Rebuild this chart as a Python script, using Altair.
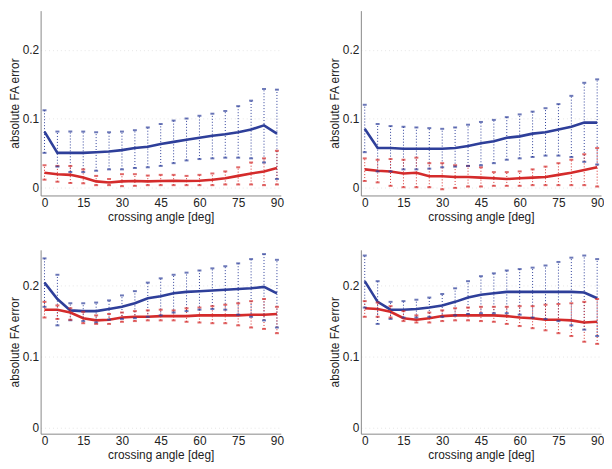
import altair as alt
import pandas as pd

angles = [0, 5, 10, 15, 20, 25, 30, 35, 40, 45, 50, 55, 60, 65, 70, 75, 80, 85, 90]
x_ticks = [0, 15, 30, 45, 60, 75, 90]
y_ticks = [0, 0.1, 0.2]

# Panel 1 (top-left)
p1_blue_mean = [0.081, 0.050, 0.050, 0.050, 0.051, 0.052, 0.054, 0.057, 0.059, 0.063, 0.066, 0.069, 0.072, 0.075, 0.077, 0.080, 0.084, 0.090, 0.078]
p1_blue_hi = [0.112, 0.081, 0.081, 0.081, 0.080, 0.080, 0.081, 0.083, 0.087, 0.092, 0.097, 0.100, 0.104, 0.107, 0.111, 0.118, 0.126, 0.143, 0.142]
p1_blue_lo = [0.050, 0.030, 0.022, 0.022, 0.024, 0.026, 0.026, 0.028, 0.029, 0.031, 0.035, 0.039, 0.041, 0.042, 0.043, 0.043, 0.042, 0.036, 0.012]
p1_red_mean = [0.021, 0.019, 0.018, 0.014, 0.0085, 0.007, 0.0085, 0.009, 0.0085, 0.009, 0.0095, 0.009, 0.0095, 0.011, 0.013, 0.0165, 0.020, 0.023, 0.028]
p1_red_hi = [0.032, 0.031, 0.031, 0.026, 0.0165, 0.012, 0.019, 0.019, 0.017, 0.018, 0.018, 0.0165, 0.018, 0.020, 0.023, 0.029, 0.036, 0.042, 0.053]
p1_red_lo = [0.011, 0.008, 0.006, 0.0057, 0.003, 0.003, 0.0015, 0.002, 0.003, 0.003, 0.003, 0.003, 0.003, 0.003, 0.004, 0.004, 0.004, 0.003, 0.004]

# Panel 2 (top-right)
p2_blue_mean = [0.085, 0.057, 0.057, 0.056, 0.056, 0.056, 0.056, 0.057, 0.060, 0.064, 0.067, 0.072, 0.074, 0.078, 0.080, 0.084, 0.088, 0.094, 0.094]
p2_blue_hi = [0.120, 0.092, 0.089, 0.088, 0.087, 0.086, 0.085, 0.087, 0.091, 0.095, 0.098, 0.102, 0.106, 0.110, 0.115, 0.121, 0.133, 0.152, 0.157]
p2_blue_lo = [0.051, 0.023, 0.023, 0.026, 0.026, 0.027, 0.029, 0.030, 0.031, 0.032, 0.035, 0.040, 0.042, 0.044, 0.046, 0.046, 0.044, 0.037, 0.033]
p2_red_mean = [0.026, 0.024, 0.023, 0.020, 0.021, 0.016, 0.016, 0.015, 0.015, 0.014, 0.013, 0.012, 0.013, 0.014, 0.015, 0.018, 0.021, 0.025, 0.029]
p2_red_hi = [0.042, 0.040, 0.041, 0.040, 0.043, 0.035, 0.035, 0.032, 0.031, 0.029, 0.022, 0.022, 0.023, 0.026, 0.030, 0.035, 0.040, 0.048, 0.057]
p2_red_lo = [0.009, 0.007, 0.002, 0.000, 0.000, 0.000, -0.003, -0.001, 0.001, 0.001, 0.002, 0.002, 0.002, 0.003, 0.003, 0.003, 0.003, 0.003, 0.001]

# Panel 3 (bottom-left)
p3_blue_mean = [0.204, 0.181, 0.165, 0.164, 0.164, 0.167, 0.170, 0.175, 0.182, 0.185, 0.189, 0.191, 0.192, 0.193, 0.194, 0.195, 0.196, 0.198, 0.189]
p3_blue_hi = [0.238, 0.215, 0.175, 0.175, 0.176, 0.179, 0.186, 0.192, 0.204, 0.210, 0.215, 0.218, 0.221, 0.224, 0.227, 0.231, 0.237, 0.244, 0.236]
p3_blue_lo = [0.170, 0.144, 0.151, 0.150, 0.148, 0.152, 0.153, 0.154, 0.156, 0.158, 0.162, 0.164, 0.166, 0.167, 0.166, 0.159, 0.156, 0.151, 0.141]
p3_red_mean = [0.166, 0.166, 0.162, 0.154, 0.151, 0.152, 0.155, 0.156, 0.156, 0.157, 0.157, 0.157, 0.158, 0.158, 0.158, 0.158, 0.159, 0.159, 0.160]
p3_red_hi = [0.177, 0.172, 0.168, 0.163, 0.158, 0.160, 0.162, 0.164, 0.165, 0.166, 0.165, 0.168, 0.169, 0.171, 0.173, 0.175, 0.178, 0.181, 0.170]
p3_red_lo = [0.155, 0.153, 0.152, 0.147, 0.146, 0.146, 0.149, 0.150, 0.151, 0.151, 0.151, 0.149, 0.148, 0.147, 0.147, 0.144, 0.141, 0.139, 0.133]

# Panel 4 (bottom-right)
p4_blue_mean = [0.206, 0.177, 0.166, 0.166, 0.167, 0.169, 0.172, 0.177, 0.183, 0.187, 0.189, 0.191, 0.191, 0.191, 0.191, 0.191, 0.191, 0.190, 0.182]
p4_blue_hi = [0.242, 0.206, 0.177, 0.178, 0.180, 0.183, 0.188, 0.196, 0.206, 0.213, 0.217, 0.221, 0.223, 0.225, 0.228, 0.233, 0.239, 0.242, 0.237]
p4_blue_lo = [0.169, 0.146, 0.153, 0.155, 0.155, 0.156, 0.156, 0.158, 0.160, 0.161, 0.161, 0.161, 0.159, 0.155, 0.153, 0.150, 0.144, 0.138, 0.129]
p4_red_mean = [0.168, 0.167, 0.163, 0.154, 0.152, 0.154, 0.157, 0.158, 0.158, 0.158, 0.158, 0.157, 0.155, 0.154, 0.152, 0.152, 0.151, 0.148, 0.149]
p4_red_hi = [0.178, 0.176, 0.171, 0.164, 0.158, 0.162, 0.165, 0.168, 0.169, 0.170, 0.170, 0.170, 0.171, 0.171, 0.173, 0.174, 0.175, 0.177, 0.181]
p4_red_lo = [0.156, 0.156, 0.155, 0.150, 0.148, 0.148, 0.150, 0.151, 0.151, 0.150, 0.149, 0.146, 0.143, 0.140, 0.137, 0.133, 0.129, 0.121, 0.118]

panels = {
    1: (p1_blue_mean, p1_blue_lo, p1_blue_hi, p1_red_mean, p1_red_lo, p1_red_hi),
    2: (p2_blue_mean, p2_blue_lo, p2_blue_hi, p2_red_mean, p2_red_lo, p2_red_hi),
    3: (p3_blue_mean, p3_blue_lo, p3_blue_hi, p3_red_mean, p3_red_lo, p3_red_hi),
    4: (p4_blue_mean, p4_blue_lo, p4_blue_hi, p4_red_mean, p4_red_lo, p4_red_hi),
}

BLUE = "#2e3f9a"
RED = "#d42b2b"
BLUE_DOT = "#3b4472"
RED_DOT = "#d46a6a"
FONT = "Liberation Sans"


def make_panel(pid, ydom, w, h):
    bm, bl, bh, rm, rl, rh = panels[pid]
    rows = []
    for s, m, lo, hi in (("blue", bm, bl, bh), ("red", rm, rl, rh)):
        for a, mv, lv, hv in zip(angles, m, lo, hi):
            rows.append({"angle": a, "series": s, "mean": mv, "lo": lv, "hi": hv})
    df = pd.DataFrame(rows)
    color_scale = alt.Scale(domain=["blue", "red"], range=[BLUE, RED])
    dot_scale = alt.Scale(domain=["blue", "red"], range=[BLUE_DOT, RED_DOT])
    x = alt.X("angle:Q", scale=alt.Scale(domain=[-1.5, 91.5], nice=False, zero=False),
              axis=alt.Axis(values=x_ticks, title="crossing angle [deg]", grid=False,
                            titlePadding=3, labelPadding=2))
    y = alt.Y("mean:Q", scale=alt.Scale(domain=ydom, nice=False, zero=False),
              axis=alt.Axis(values=y_ticks, title="absolute FA error", format="~g",
                            grid=True, gridColor="#e6e6e6", gridDash=[1, 3],
                            titlePadding=1, labelPadding=2))
    base = alt.Chart(df)
    whisk = base.mark_rule(strokeDash=[1, 2], strokeWidth=1).encode(
        x="angle:Q", y="lo:Q", y2="hi:Q",
        color=alt.Color("series:N", scale=dot_scale, legend=None))
    cap_hi = base.mark_tick(orient="horizontal", size=4, thickness=2).encode(
        x="angle:Q", y="hi:Q",
        color=alt.Color("series:N", scale=color_scale, legend=None))
    cap_lo = base.mark_tick(orient="horizontal", size=4, thickness=2).encode(
        x="angle:Q", y="lo:Q",
        color=alt.Color("series:N", scale=color_scale, legend=None))
    line = base.mark_line(strokeWidth=2.6).encode(
        x=x, y=y, color=alt.Color("series:N", scale=color_scale, legend=None),
        detail="series:N")
    return alt.layer(line, whisk, cap_hi, cap_lo).properties(width=w, height=h)


top_dom = [-0.012, 0.257]
bot_dom = [-0.008, 0.250]
W = 243
p1 = make_panel(1, top_dom, W, 187)
p2 = make_panel(2, top_dom, W, 187)
p3 = make_panel(3, bot_dom, W, 186)
p4 = make_panel(4, bot_dom, W, 186)

chart = alt.vconcat(
    alt.hconcat(p1, p2, spacing=45),
    alt.hconcat(p3, p4, spacing=45),
    spacing=28,
).properties(padding=0).configure_view(stroke=None).configure_axis(
    labelFont=FONT, titleFont=FONT, labelFontSize=12, titleFontSize=12,
    labelColor="#222", titleColor="#222", titleFontWeight="normal",
    domainColor="#888", ticks=False,
)

chart.save("out.html", embed_options={"renderer": "svg", "actions": False})
